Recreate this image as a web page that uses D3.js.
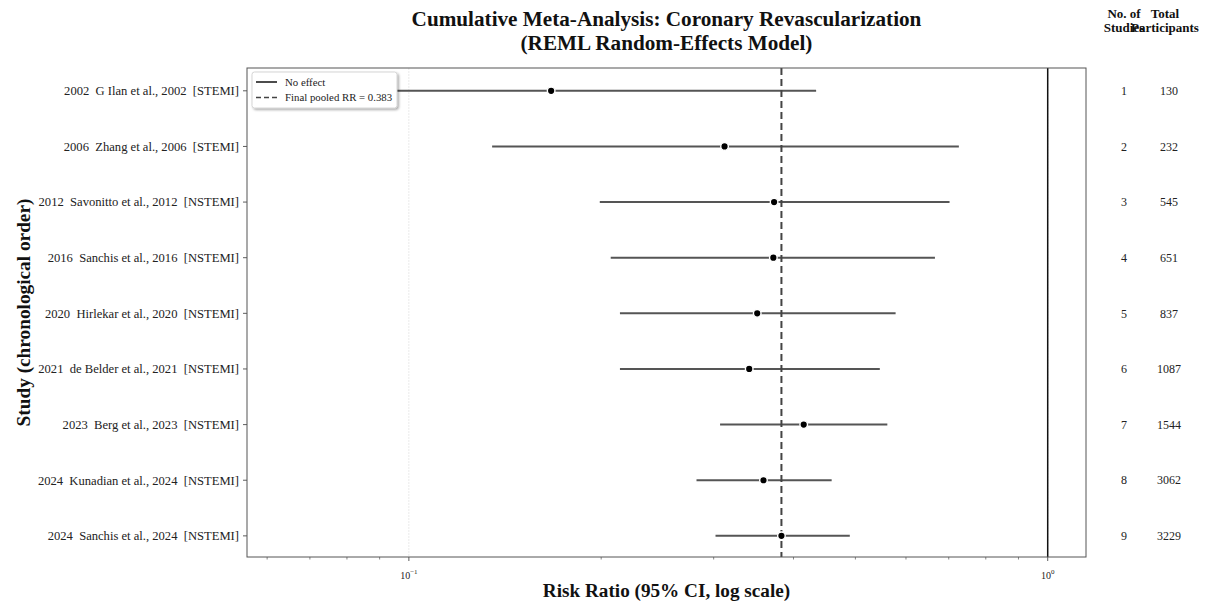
<!DOCTYPE html>
<html>
<head>
<meta charset="utf-8">
<script src="https://cdn.jsdelivr.net/npm/d3@7"></script>
<style>
  html, body { margin: 0; padding: 0; background: #fff; }
  svg { display: block; font-family: "Liberation Serif", "DejaVu Serif", serif; }
</style>
</head>
<body>
<svg id="chart" width="1210" height="605"></svg>
<script>
// Cumulative meta-analysis, one row per added study
const studyLabels = [
  "2002  G Ilan et al., 2002  [STEMI]",
  "2006  Zhang et al., 2006  [STEMI]",
  "2012  Savonitto et al., 2012  [NSTEMI]",
  "2016  Sanchis et al., 2016  [NSTEMI]",
  "2020  Hirlekar et al., 2020  [NSTEMI]",
  "2021  de Belder et al., 2021  [NSTEMI]",
  "2023  Berg et al., 2023  [NSTEMI]",
  "2024  Kunadian et al., 2024  [NSTEMI]",
  "2024  Sanchis et al., 2024  [NSTEMI]"
];
const pooledRR = [0.167, 0.312, 0.373, 0.372, 0.351, 0.341, 0.415, 0.359, 0.383];
const ciLower  = [0.062, 0.135, 0.199, 0.207, 0.214, 0.214, 0.307, 0.282, 0.302];
const ciUpper  = [0.434, 0.726, 0.702, 0.666, 0.578, 0.546, 0.561, 0.459, 0.490];
const nStudies = [1, 2, 3, 4, 5, 6, 7, 8, 9];
const nParticipants = [130, 232, 545, 651, 837, 1087, 1544, 3062, 3229];
const finalRR = 0.383;
const xDomain = [0.0558, 1.148];

const svg = d3.select("#chart");
const plot = { left: 247, right: 1086, top: 68, bottom: 557 };

const x = d3.scaleLog().domain(xDomain).range([plot.left, plot.right]);
const y = d3.scaleLinear().domain([-0.41, 8.38]).range([plot.top, plot.bottom]);

const defs = svg.append("defs");
defs.append("clipPath").attr("id", "plotClip")
  .append("rect")
  .attr("x", plot.left).attr("y", plot.top)
  .attr("width", plot.right - plot.left).attr("height", plot.bottom - plot.top);
const shadow = defs.append("filter").attr("id", "legendShadow")
  .attr("x", "-10%").attr("y", "-10%").attr("width", "130%").attr("height", "140%");
shadow.append("feDropShadow").attr("dx", 1.5).attr("dy", 1.5)
  .attr("stdDeviation", 0.8).attr("flood-color", "#000").attr("flood-opacity", 0.35);

// Faint grid at major decades
const majorTicks = [0.1, 1];
svg.append("g").selectAll("line").data(majorTicks).join("line")
  .attr("x1", d => x(d)).attr("x2", d => x(d))
  .attr("y1", plot.top).attr("y2", plot.bottom)
  .attr("stroke", "#e4e4e4").attr("stroke-width", 0.8)
  .attr("stroke-dasharray", "2,1");

// X axis with superscript decade labels and minor ticks
const minorTicks = x.ticks().filter(t => majorTicks.indexOf(+t.toPrecision(6)) < 0);
const xAxisG = svg.append("g").attr("transform", `translate(0,${plot.bottom})`);
xAxisG.selectAll("line.minor").data(minorTicks).join("line")
  .attr("class", "minor")
  .attr("x1", d => x(d)).attr("x2", d => x(d))
  .attr("y1", 0).attr("y2", 2.5)
  .attr("stroke", "#333").attr("stroke-width", 0.6);
xAxisG.selectAll("line.major").data(majorTicks).join("line")
  .attr("class", "major")
  .attr("x1", d => x(d)).attr("x2", d => x(d))
  .attr("y1", 0).attr("y2", 4)
  .attr("stroke", "#333").attr("stroke-width", 0.8);
const tickText = xAxisG.selectAll("text").data(majorTicks).join("text")
  .attr("x", d => x(d)).attr("y", 22)
  .attr("text-anchor", "middle")
  .attr("font-size", 10).attr("fill", "#222");
tickText.append("tspan").text("10");
tickText.append("tspan").attr("dy", -5).attr("font-size", 7)
  .text(d => String(Math.round(Math.log10(d))).replace("-", "\u2212"));

// Y axis ticks and study labels
const yAxisG = svg.append("g");
yAxisG.selectAll("line").data(studyLabels).join("line")
  .attr("x1", plot.left - 4).attr("x2", plot.left)
  .attr("y1", (d, i) => y(i)).attr("y2", (d, i) => y(i))
  .attr("stroke", "#333").attr("stroke-width", 0.8);
yAxisG.selectAll("text").data(studyLabels).join("text")
  .attr("x", plot.left - 8).attr("y", (d, i) => y(i))
  .attr("dy", "0.35em").attr("text-anchor", "end")
  .attr("font-size", 12.6).attr("fill", "#222")
  .style("white-space", "pre")
  .text(d => d);

const marks = svg.append("g").attr("clip-path", "url(#plotClip)");

// No-effect reference line
marks.append("line")
  .attr("x1", x(1)).attr("x2", x(1))
  .attr("y1", plot.top).attr("y2", plot.bottom)
  .attr("stroke", "#111").attr("stroke-width", 1.5);

// Confidence intervals
marks.selectAll("line.ci").data(pooledRR).join("line")
  .attr("class", "ci")
  .attr("x1", (d, i) => x(ciLower[i])).attr("x2", (d, i) => x(ciUpper[i]))
  .attr("y1", (d, i) => y(i)).attr("y2", (d, i) => y(i))
  .attr("stroke", "#555").attr("stroke-width", 2);

// Final pooled estimate line
marks.append("line")
  .attr("x1", x(finalRR)).attr("x2", x(finalRR))
  .attr("y1", plot.top).attr("y2", plot.bottom)
  .attr("stroke", "#444").attr("stroke-width", 2)
  .attr("stroke-dasharray", "7,4");

// Pooled point estimates
marks.selectAll("circle").data(pooledRR).join("circle")
  .attr("cx", d => x(d)).attr("cy", (d, i) => y(i))
  .attr("r", 3.8)
  .attr("fill", "#000").attr("stroke", "#fff").attr("stroke-width", 1.4);

// Frame
svg.append("rect")
  .attr("x", plot.left).attr("y", plot.top)
  .attr("width", plot.right - plot.left).attr("height", plot.bottom - plot.top)
  .attr("fill", "none").attr("stroke", "#555").attr("stroke-width", 1);

// Legend
const legend = svg.append("g").attr("transform", `translate(${plot.left + 5},${plot.top + 4})`);
legend.append("rect")
  .attr("width", 145).attr("height", 36).attr("rx", 2.5)
  .attr("fill", "#fff").attr("stroke", "#ccc").attr("stroke-width", 0.8)
  .attr("filter", "url(#legendShadow)");
const legendItems = [
  { label: "No effect", dash: null, color: "#111" },
  { label: "Final pooled RR = " + finalRR.toFixed(3), dash: "5,3", color: "#444" }
];
legendItems.forEach((item, k) => {
  const ly = 10 + k * 15.5;
  legend.append("line")
    .attr("x1", 4).attr("x2", 25).attr("y1", ly).attr("y2", ly)
    .attr("stroke", item.color).attr("stroke-width", 1.5)
    .attr("stroke-dasharray", item.dash);
  legend.append("text")
    .attr("x", 33).attr("y", ly).attr("dy", "0.35em")
    .attr("font-size", 10.8).attr("fill", "#222")
    .text(item.label);
});

// Side table: studies pooled and cumulative participants
const colStudies = 1124, colParticipants = 1169;
const side = svg.append("g").attr("font-size", 12).attr("fill", "#222");
side.selectAll("text.ns").data(nStudies).join("text")
  .attr("class", "ns")
  .attr("x", colStudies).attr("y", (d, i) => y(i)).attr("dy", "0.35em")
  .attr("text-anchor", "middle").text(d => d);
side.selectAll("text.np").data(nParticipants).join("text")
  .attr("class", "np")
  .attr("x", colParticipants).attr("y", (d, i) => y(i)).attr("dy", "0.35em")
  .attr("text-anchor", "middle").text(d => d);

const header = svg.append("g").attr("font-size", 13).attr("font-weight", "bold")
  .attr("text-anchor", "middle").attr("fill", "#111");
header.append("text").attr("x", colStudies).attr("y", 18).text("No. of");
header.append("text").attr("x", colStudies).attr("y", 32).text("Studies");
header.append("text").attr("x", colParticipants - 4).attr("y", 18).text("Total");
header.append("text").attr("x", colParticipants - 4).attr("y", 32).text("Participants");

// Titles
const midX = (plot.left + plot.right) / 2;
svg.append("text").attr("x", midX).attr("y", 26)
  .attr("text-anchor", "middle").attr("font-size", 21.2).attr("font-weight", "bold")
  .attr("fill", "#111")
  .text("Cumulative Meta-Analysis: Coronary Revascularization");
svg.append("text").attr("x", midX).attr("y", 50)
  .attr("text-anchor", "middle").attr("font-size", 21.2).attr("font-weight", "bold")
  .attr("fill", "#111")
  .text("(REML Random-Effects Model)");

svg.append("text").attr("x", midX).attr("y", 597)
  .attr("text-anchor", "middle").attr("font-size", 19.2).attr("font-weight", "bold")
  .attr("fill", "#111")
  .text("Risk Ratio (95% CI, log scale)");

svg.append("text")
  .attr("transform", `translate(30,${(plot.top + plot.bottom) / 2}) rotate(-90)`)
  .attr("text-anchor", "middle").attr("font-size", 19.3).attr("font-weight", "bold")
  .attr("fill", "#111")
  .text("Study (chronological order)");
</script>
</body>
</html>
